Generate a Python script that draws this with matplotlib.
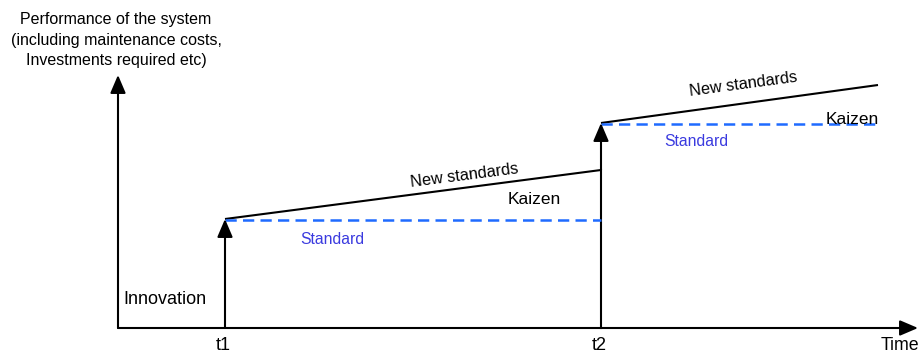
import matplotlib
matplotlib.use("Agg")
import matplotlib.pyplot as plt

plt.rcParams['font.family'] = ['Liberation Sans', 'DejaVu Sans']

# ---- data (conceptual diagram, in display units) ----
time_origin = 118
time_end = 918
perf_base = 28
perf_top = 281
step_times = [225, 601]          # t1, t2
tick_labels = ["t1", "t2"]
standard_levels = [137, 233]      # standard level after each innovation
new_std_end_times = [601, 878]
new_std_end_levels = [186, 271]   # improved (kaizen) level at segment end
standard_end_times = [601, 878]

BLUE_DASH = "#1f6bff"
BLUE_TXT = "#3a3adf"

fig = plt.figure(figsize=(9.23, 3.56), dpi=100)
ax = fig.add_axes([0, 0, 1, 1])
ax.set_xlim(0, 923)
ax.set_ylim(0, 356)
ax.axis("off")

def arrow(x0, y0, x1, y1):
    ax.annotate("", xy=(x1, y1), xytext=(x0, y0),
                arrowprops=dict(arrowstyle="-|>,head_length=1.1,head_width=0.47",
                                mutation_scale=10, color="black", lw=1.5,
                                shrinkA=0, shrinkB=0))

# axes
arrow(time_origin, perf_base, time_origin, perf_top)
arrow(time_origin, perf_base, time_end, perf_base)

# innovation steps
arrow(step_times[0], perf_base, step_times[0], standard_levels[0])
ax.plot([step_times[1], step_times[1]], [perf_base, new_std_end_levels[0]], color="black", lw=1.5)
arrow(step_times[1], new_std_end_levels[0], step_times[1], standard_levels[1])

for i in range(2):
    ax.plot([step_times[i], new_std_end_times[i]], [standard_levels[i], new_std_end_levels[i]],
            color="black", lw=1.5, solid_capstyle="butt")
    ax.plot([step_times[i], standard_end_times[i]], [standard_levels[i] - 1, standard_levels[i] - 1],
            color=BLUE_DASH, lw=1.8, dashes=(4.5, 2.5))

# texts
ax.text(time_origin - 2, 316, "Performance of the system\n(including maintenance costs,\nInvestments required etc)",
        ha="center", va="center", fontsize=11.5, linespacing=1.42)
ax.text(165, 57, "Innovation", ha="center", va="center", fontsize=13)
for t, lab in zip(step_times, tick_labels):
    ax.text(t - 2, 10, lab, ha="center", va="center", fontsize=13)
ax.text(900, 10, "Time", ha="center", va="center", fontsize=12.8)

ax.text(464, 180, "New standards", ha="center", va="center", fontsize=11.7, rotation=7.3)
ax.text(743, 272, "New standards", ha="center", va="center", fontsize=11.7, rotation=7.6)
ax.text(534, 156, "Kaizen", ha="center", va="center", fontsize=12.5)
ax.text(852, 237, "Kaizen", ha="center", va="center", fontsize=12.5)
ax.text(332, 117, "Standard", ha="center", va="center", fontsize=11.3, color=BLUE_TXT)
ax.text(696, 214, "Standard", ha="center", va="center", fontsize=11.3, color=BLUE_TXT)

fig.savefig("out.png", dpi=100)
